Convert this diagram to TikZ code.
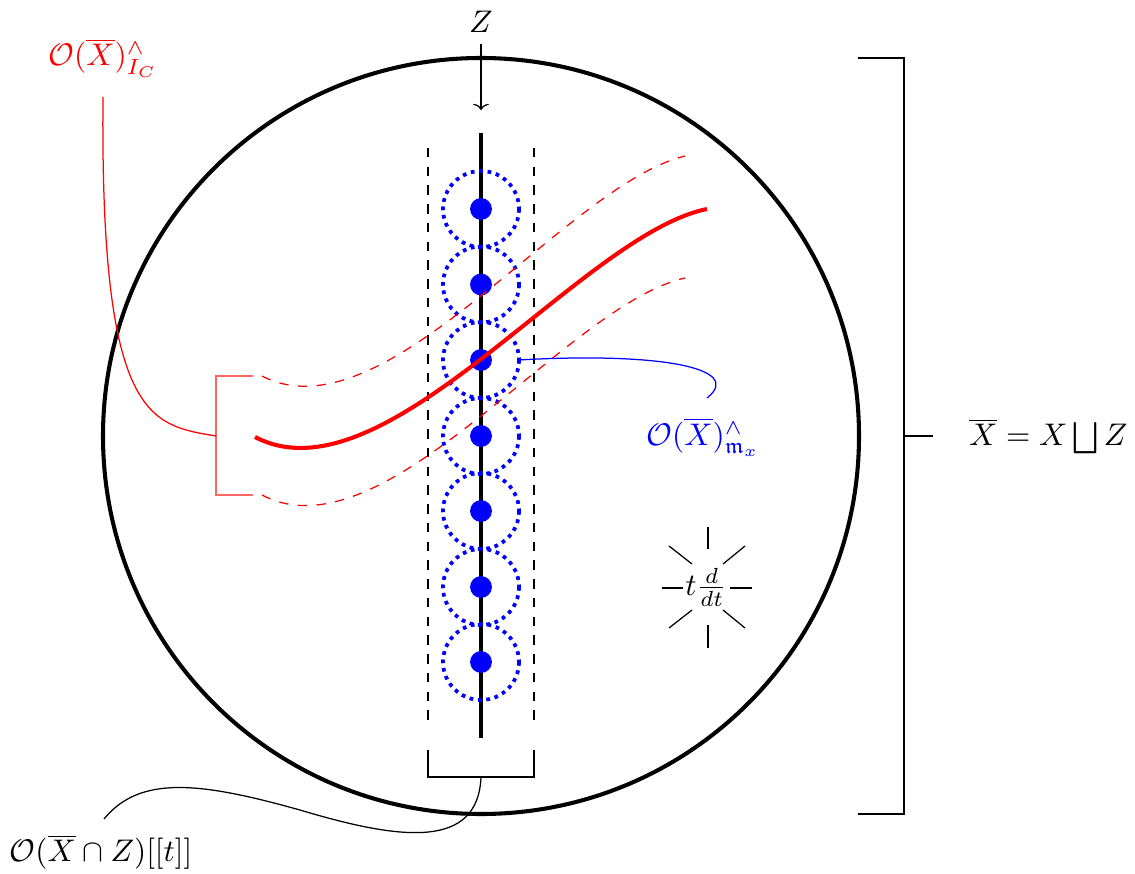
\documentclass[tikz,border=0pt]{standalone}
\usepackage{amssymb}
\usetikzlibrary{arrows.meta,calc}
\begin{document}
\begin{tikzpicture}[x=0.32pt,y=-0.32pt,
  thickline/.style={line width=1.3pt},
  dotring/.style={blue, line width=1.2pt, dash pattern=on 1.2pt off 1.5pt},
  bluedot/.style={circle, fill=blue, inner sep=0pt, minimum size=7pt},
  ray/.style={line width=0.4pt},
  reddash/.style={red, dashed, line width=0.4pt}]
\useasboundingbox (0,0) rectangle (1135,874);
% big circle
\coordinate (C) at (481,436);
\draw[thickline] (C) circle[radius=378];
% Z and arrow
\node (Z) at (481,22) {$Z$};
\coordinate (Zend) at (481,110);
\draw[-{To[length=2pt,width=5pt]}] (Z.south) -- (Zend);
% vertical line
\coordinate (top) at (481,133);
\coordinate (bot) at (481,738);
\draw[thickline] (top) -- (bot);
% dashed strip
\coordinate (dl1) at (428,148); \coordinate (dl2) at (428,722);
\coordinate (dr1) at (534,148); \coordinate (dr2) at (534,722);
\draw[dashed] (dl1) -- (dl2);
\draw[dashed] (dr1) -- (dr2);
% dots and rings
\foreach \i/\y in {1/209,2/284.5,3/360,4/436,5/511,6/587,7/662} {
  \draw[dotring] (481,\y) circle[radius=38];
  \node[bluedot] (d\i) at (481,\y) {};
}
% red curves
\draw[red, thickline] (255,437) .. controls (385,505) and (580,235) .. (707,209);
\draw[reddash] (262,376) .. controls (385,440) and (565,185) .. (685,156);
\draw[reddash] (262,495) .. controls (385,560) and (565,305) .. (685,278);
% red bracket and label
\draw[red!60] (253,376) -- (216,376) -- (216,495) -- (253,495);
\coordinate (rb) at (216,436);
\node[red] (lr) at (103,58) {$\mathcal{O}(\overline{X})^{\wedge}_{I_C}$};
\coordinate (lrs) at (103,97);
\draw[red] (lrs) .. controls (100,420) and (150,425) .. (rb);
% blue label
\coordinate (bs) at (518,360);
\coordinate (be) at (707,398);
\draw[blue] (bs) .. controls (660,352) and (745,368) .. (be);
\node[blue] (lb) at (703,437) {$\mathcal{O}(\overline{X})^{\wedge}_{\mathfrak{m}_x}$};
% right bracket
\draw (858,58) -- (904,58) -- (904,814) -- (858,814);
\coordinate (rm) at (904,436);
\coordinate (rm2) at (933,436);
\draw (rm) -- (rm2);
\node[anchor=west] (lx) at (958,436) {$\overline{X} = X \bigsqcup Z$};
% bottom bracket
\draw (428,750) -- (428,777) -- (534,777) -- (534,750);
\coordinate (bb) at (481,777);
\coordinate (bend) at (104,819);
\draw (bb) .. controls (478,850) and (400,840) .. (300,810) .. controls (200,782) and (140,775) .. (bend);
\node (lbot) at (101,852) {$\mathcal{O}(\overline{X}\cap Z)[[t]]$};
% t d/dt star
\node (s) at (706,587) {$t\frac{d}{dt}$};
\coordinate (sc) at (708,587);
\foreach \a/\b/\c/\d in {0/-60/0/-38, 0/38/0/61, -46/1/-25/1, 22/1/44/1,
  -39/-41/-16/-23, 37/-41/15/-23, -39/41/-16/23, 37/41/15/23} {
  \draw[ray] ($(sc)+(\a,\b)$) -- ($(sc)+(\c,\d)$);
}
\end{tikzpicture}
\end{document}
